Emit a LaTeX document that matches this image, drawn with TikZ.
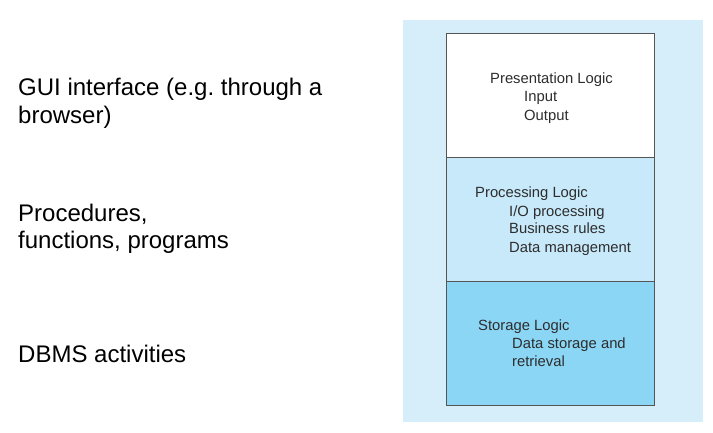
\documentclass[tikz,border=0pt]{standalone}
\usepackage{fontspec}
\setmainfont{Liberation Sans}
\frenchspacing
\definecolor{bgblue}{RGB}{214,238,250}
\definecolor{midblue}{RGB}{200,233,250}
\definecolor{lowblue}{RGB}{140,214,245}
\definecolor{boxline}{RGB}{85,85,85}
\definecolor{smalltext}{RGB}{45,45,45}
\begin{document}
\begin{tikzpicture}[x=1pt,y=-1pt,
  bigtxt/.style={anchor=base west,inner sep=0pt,font=\fontsize{24}{28}\selectfont,text=black},
  smalltxt/.style={anchor=base west,inner sep=0pt,font=\fontsize{14.8}{18}\selectfont,text=smalltext},
  layer/.style={draw=boxline,line width=1pt}]
\useasboundingbox (0,0) rectangle (713,433);
\fill[white] (0,0) rectangle (713,433);
\fill[bgblue] (403,20) rectangle (703,422);
% layers
\filldraw[layer,fill=white] (446,34) rectangle (654,158);
\filldraw[layer,fill=midblue] (446,158) rectangle (654,281);
\filldraw[layer,fill=lowblue] (446,281) rectangle (654,405);
% left labels
\node[bigtxt] (gui1) at (18,96) {GUI interface (e.g.\ through a};
\node[bigtxt] (gui2) at (18,124) {browser)};
\node[bigtxt] (proc1) at (18,222) {Procedures,};
\node[bigtxt] (proc2) at (18,249) {functions, programs};
\node[bigtxt] (dbms) at (18,362) {DBMS activities};
% presentation
\node[smalltxt] (pl) at (490,84) {Presentation Logic};
\node[smalltxt] (pin) at (524,102) {Input};
\node[smalltxt] (pout) at (524,121) {Output};
% processing
\node[smalltxt] (prl) at (475,198) {Processing Logic};
\node[smalltxt] (pio) at (509,216.5) {I/O processing};
\node[smalltxt] (pbr) at (509,234) {Business rules};
\node[smalltxt] (pdm) at (509,252) {Data management};
% storage
\node[smalltxt] (sl) at (478,330.5) {Storage Logic};
\node[smalltxt] (sd1) at (512,348) {Data storage and};
\node[smalltxt] (sd2) at (512,366.5) {retrieval};
\end{tikzpicture}
\end{document}
